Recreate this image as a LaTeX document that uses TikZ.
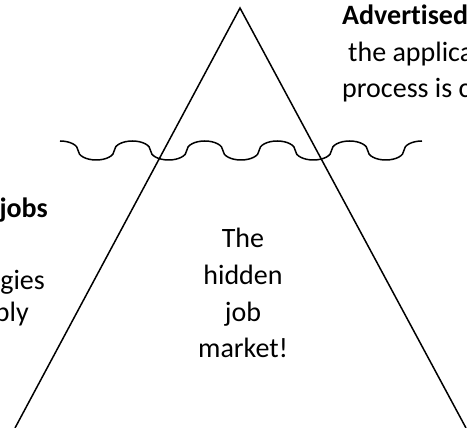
\documentclass[tikz,border=0pt]{standalone}
\usepackage{fontspec}
\setmainfont{Carlito}[Ligatures=NoCommon]
\usetikzlibrary{positioning}
\tikzset{
    txt/.style={inner sep=0pt, font=\fontsize{28}{36.8}\selectfont},
    boldtxt/.style={inner sep=0pt, font=\fontsize{28}{36.8}\selectfont\bfseries},
    outline/.style={draw, line width=1.5pt, line join=miter},
    wave/.style={outline, x radius=18.1pt, y radius=9.5pt} }

\begin{document}
\begin{tikzpicture}[x=1pt, y=1pt]
    \useasboundingbox (0,0) rectangle (467,428);
    \coordinate (apex) at (240,420);
    \coordinate (lfoot) at (15,0);
    \coordinate (rfoot) at (466,0);
    \coordinate (wstart) at (60,287);
    % ----
    \draw[outline] (lfoot) -- (apex) -- (rfoot);
    % ----
    \draw[wave] (wstart)
        arc[start angle=90, end angle=0]
        arc[start angle=180, end angle=360] arc[start angle=180, end angle=0]
        arc[start angle=180, end angle=360] arc[start angle=180, end angle=0]
        arc[start angle=180, end angle=360] arc[start angle=180, end angle=0]
        arc[start angle=180, end angle=360] arc[start angle=180, end angle=0]
        arc[start angle=180, end angle=360]
        arc[start angle=180, end angle=90];
    % ----
    \node[txt, align=left, anchor=base west] (advert) at (342,330)
        {\textbf{Advertised}\\\hspace*{6pt}the applica\\process is c};
    \node[boldtxt, anchor=base east] (jobs) at (48,210) {jobs};
    \node[txt, anchor=base east] (gies) at (45,138) {gies};
    \node[txt, anchor=base east] (ply) at (29,106) {ply};
    \node[txt, align=center, anchor=base] (hidden) at (243,70)
        {The\\hidden\\job\\market!};
\end{tikzpicture}
\end{document}
